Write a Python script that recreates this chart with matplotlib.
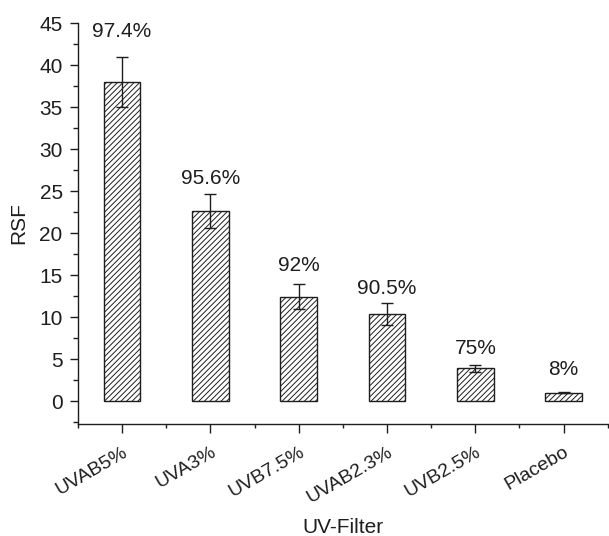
import matplotlib
matplotlib.use("Agg")
import matplotlib.pyplot as plt
import matplotlib.transforms as mtransforms
from matplotlib.ticker import MultipleLocator

plt.rcParams['font.family'] = ['Liberation Sans', 'DejaVu Sans']
plt.rcParams['hatch.linewidth'] = 0.7

filters = ["UVAB5%", "UVA3%", "UVB7.5%", "UVAB2.3%", "UVB2.5%", "Placebo"]
rsf = [38.0, 22.65, 12.4, 10.4, 3.9, 1.0]
rsf_err = [3.0, 2.0, 1.5, 1.3, 0.4, 0.08]
protection = ["97.4%", "95.6%", "92%", "90.5%", "75%", "8%"]

fig = plt.figure(figsize=(6.09, 5.36), dpi=100)
ax = fig.add_axes([0.128, 0.2095, 0.87, 0.7475])

ink = '#1e1e1e'
x = list(range(1, len(filters) + 1))
ax.bar(x, rsf, width=0.415, color='white', edgecolor=ink, linewidth=1.0,
       hatch='//////', zorder=2)
ax.errorbar(x, rsf, yerr=rsf_err, fmt='none', ecolor=ink, elinewidth=1.0,
            capsize=4, capthick=1.0, zorder=3)

# gap (points) between each error-bar cap and its percentage label
label_gap = [14.4, 7.2, 9.8, 6.3, 7.9, 11.9]
for xi, v, e, lab, g in zip(x, rsf, rsf_err, protection, label_gap):
    ax.annotate(lab, xy=(xi, v + e), xytext=(0, g), textcoords='offset points',
                ha='center', va='baseline', fontsize=15, color=ink)

ax.set_xlim(0.5, 6.5)
ax.set_ylim(-2.7, 45)
ax.yaxis.set_major_locator(MultipleLocator(5))
ax.yaxis.set_minor_locator(MultipleLocator(2.5))
ax.set_xticks(x)
ax.set_xticks([i + 0.5 for i in range(0, len(filters) + 1)], minor=True)
ax.set_xticklabels(filters, rotation=30, ha='right', va='top',
                   rotation_mode='anchor', fontsize=14, color=ink)
shift = mtransforms.ScaledTranslation(7 / 72, 0, fig.dpi_scale_trans)
for t in ax.get_xticklabels():
    t.set_transform(t.get_transform() + shift)

ax.tick_params(axis='y', labelsize=15, labelcolor=ink, pad=5)
ax.tick_params(axis='y', which='major', direction='out', length=6, width=1.0, color=ink)
ax.tick_params(axis='y', which='minor', direction='out', length=3.8, width=1.0, color=ink)
ax.tick_params(axis='x', which='major', direction='out', length=6.5, width=1.0,
               color=ink, pad=8)
ax.tick_params(axis='x', which='minor', direction='out', length=3, width=1.0, color=ink)

for side in ('top', 'right'):
    ax.spines[side].set_visible(False)
for side in ('left', 'bottom'):
    ax.spines[side].set_color(ink)
    ax.spines[side].set_linewidth(1.0)

ax.set_xlabel("UV-Filter", fontsize=15, color=ink, labelpad=8)
ax.set_ylabel("RSF", fontsize=15, color=ink, labelpad=8)

fig.savefig("out.png", dpi=100, facecolor='white')
